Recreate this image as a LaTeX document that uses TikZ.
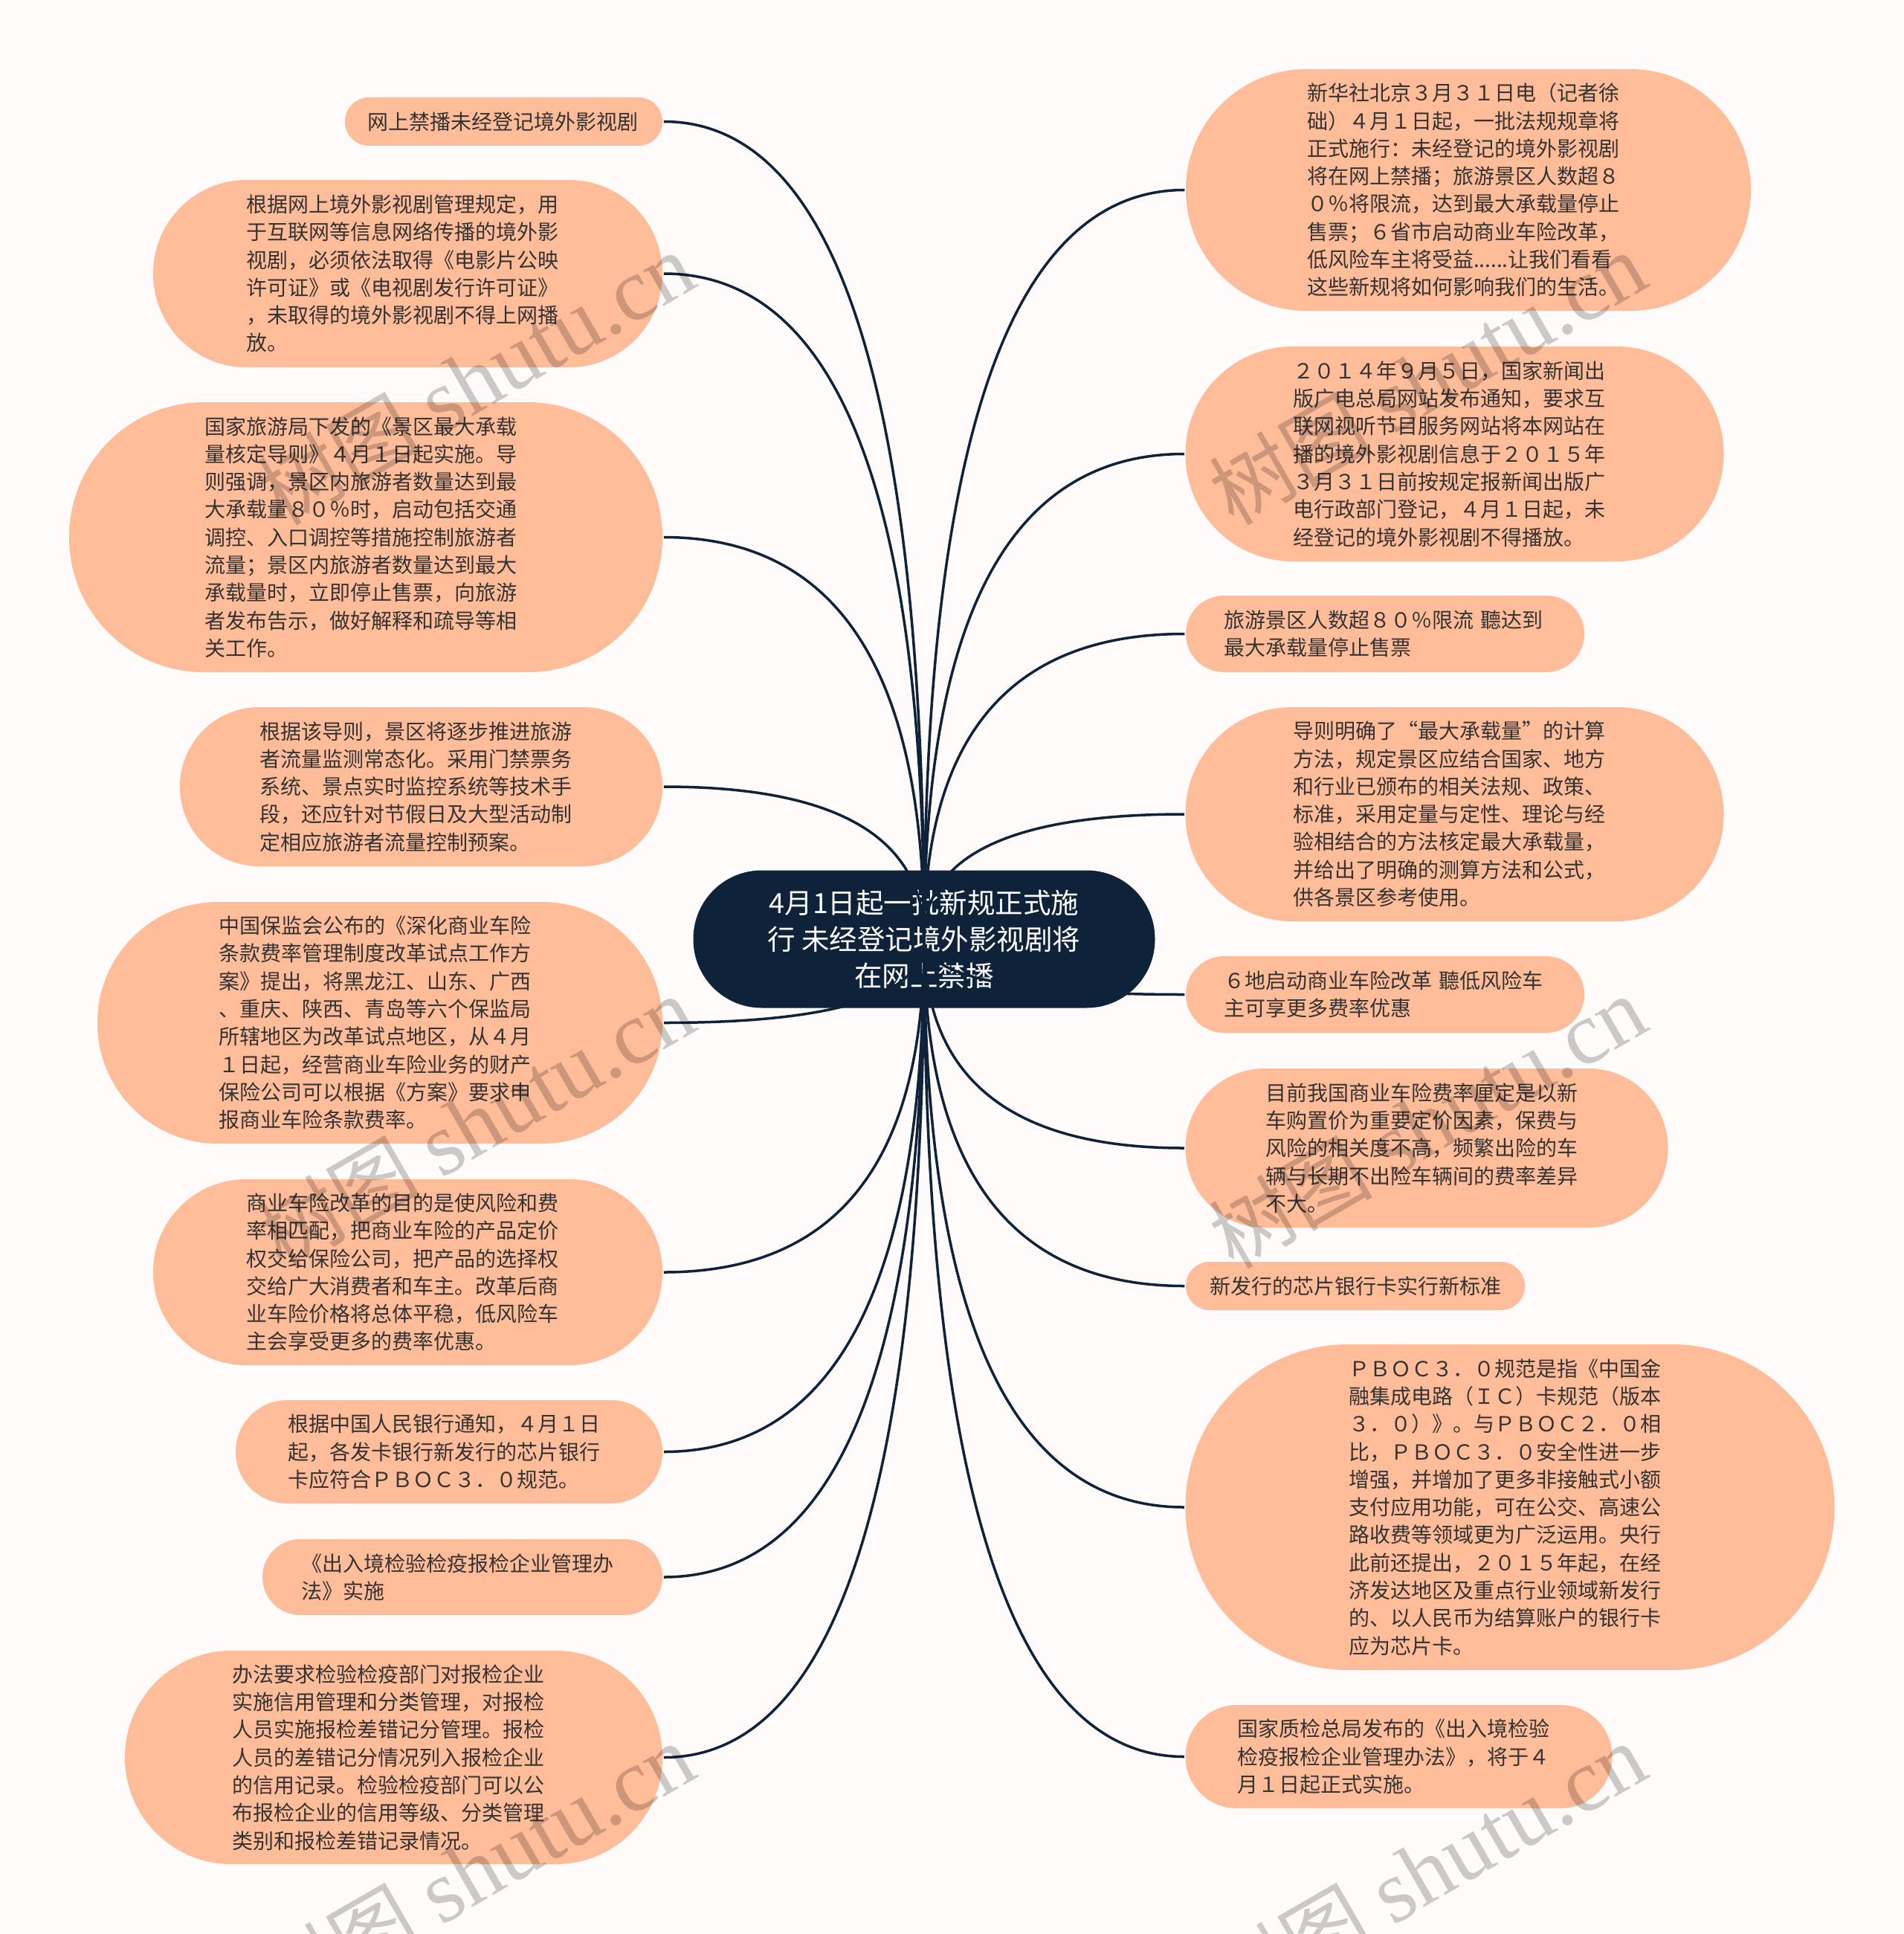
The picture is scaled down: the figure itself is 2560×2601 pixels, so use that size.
\documentclass[tikz,border=0pt]{standalone}
\usepackage{fontspec}
\setmainfont{Noto Sans CJK SC}
\newfontfamily\markfont{Liberation Serif}
\usetikzlibrary{calc}
\definecolor{pagebg}{HTML}{FEFBFA}
\definecolor{peach}{HTML}{FFBC99}
\definecolor{navy}{HTML}{0E2239}
\definecolor{leaftext}{HTML}{333333}
\newcommand{\stamptext}{{\fontsize{110pt}{120pt}\selectfont 树图} {\markfont shutu.cn}}
\tikzset{
  leaf/.style 2 args={fill=peach,text=leaftext,inner sep=0pt,align=left,
    minimum width=#1pt,minimum height=#2pt,rounded corners=0.499*#2pt,
    text width=434pt,font=\fontsize{28pt}{37.3pt}\selectfont},
  rootbox/.style={fill=navy,text=white,inner sep=0pt,align=center,
    minimum width=621pt,minimum height=185pt,rounded corners=92pt,
    font=\fontsize{37.5pt}{49pt}\selectfont},
  branch/.style={to path={.. controls ($(\tikztostart)!.667!(\tikztostart |- \tikztotarget)$)
    and ($(\tikztotarget)!.667!(\tikztostart |- \tikztotarget)$) .. (\tikztotarget)}},
  stamp/.style={rotate=30,text=black,text opacity=0.2,inner sep=0pt,
    font=\fontsize{120pt}{120pt}\selectfont}
}
\begin{document}
\begin{tikzpicture}[x=1pt,y=-1pt,line width=3.5pt]
  \fill[pagebg] (0,0) rectangle (2560,2601);
  \useasboundingbox (0,0) rectangle (2560,2601);

  \node[rootbox] (root) at (1243,1263) {4月1日起一批新规正式施\\行 未经登记境外影视剧将\\在网上禁播};

  % left side
  \node[leaf={427}{65},text width=367pt] (L1) at (677.5,163.5) {网上禁播未经登记境外影视剧};
  \node[leaf={685}{252}] (L2) at (548.5,368) {根据网上境外影视剧管理规定，用\\于互联网等信息网络传播的境外影\\视剧，必须依法取得《电影片公映\\许可证》或《电视剧发行许可证》\\，未取得的境外影视剧不得上网播\\放。};
  \node[leaf={798}{363}] (L3) at (492,722.5) {国家旅游局下发的《景区最大承载\\量核定导则》４月１日起实施。导\\则强调，景区内旅游者数量达到最\\大承载量８０％时，启动包括交通\\调控、入口调控等措施控制旅游者\\流量；景区内旅游者数量达到最大\\承载量时，立即停止售票，向旅游\\者发布告示，做好解释和疏导等相\\关工作。};
  \node[leaf={649}{214}] (L4) at (566.5,1058) {根据该导则，景区将逐步推进旅游\\者流量监测常态化。采用门禁票务\\系统、景点实时监控系统等技术手\\段，还应针对节假日及大型活动制\\定相应旅游者流量控制预案。};
  \node[leaf={760}{325}] (L5) at (511,1375.5) {中国保监会公布的《深化商业车险\\条款费率管理制度改革试点工作方\\案》提出，将黑龙江、山东、广西\\、重庆、陕西、青岛等六个保监局\\所辖地区为改革试点地区，从４月\\１日起，经营商业车险业务的财产\\保险公司可以根据《方案》要求申\\报商业车险条款费率。};
  \node[leaf={685}{250}] (L6) at (548.5,1711) {商业车险改革的目的是使风险和费\\率相匹配，把商业车险的产品定价\\权交给保险公司，把产品的选择权\\交给广大消费者和车主。改革后商\\业车险价格将总体平稳，低风险车\\主会享受更多的费率优惠。};
  \node[leaf={574}{139}] (L7) at (604,1952.5) {根据中国人民银行通知，４月１日\\起，各发卡银行新发行的芯片银行\\卡应符合ＰＢＯＣ３．０规范。};
  \node[leaf={538}{102}] (L8) at (622,2121) {《出入境检验检疫报检企业管理办\\法》实施};
  \node[leaf={723}{287}] (L9) at (529.5,2363.5) {办法要求检验检疫部门对报检企业\\实施信用管理和分类管理，对报检\\人员实施报检差错记分管理。报检\\人员的差错记分情况列入报检企业\\的信用记录。检验检疫部门可以公\\布报检企业的信用等级、分类管理\\类别和报检差错记录情况。};

  % right side
  \node[leaf={760}{325}] (R1) at (1975,255.5) {新华社北京３月３１日电（记者徐\\础）４月１日起，一批法规规章将\\正式施行：未经登记的境外影视剧\\将在网上禁播；旅游景区人数超８\\０％将限流，达到最大承载量停止\\售票；６省市启动商业车险改革，\\低风险车主将受益......让我们看看\\这些新规将如何影响我们的生活。};
  \node[leaf={724}{289}] (R2) at (1956.5,610.5) {２０１４年９月５日，国家新闻出\\版广电总局网站发布通知，要求互\\联网视听节目服务网站将本网站在\\播的境外影视剧信息于２０１５年\\３月３１日前按规定报新闻出版广\\电行政部门登记，４月１日起，未\\经登记的境外影视剧不得播放。};
  \node[leaf={536}{103}] (R3) at (1863,852.5) {旅游景区人数超８０％限流 聽达到\\最大承载量停止售票};
  \node[leaf={724}{288}] (R4) at (1956.5,1095) {导则明确了“最大承载量”的计算\\方法，规定景区应结合国家、地方\\和行业已颁布的相关法规、政策、\\标准，采用定量与定性、理论与经\\验相结合的方法核定最大承载量，\\并给出了明确的测算方法和公式，\\供各景区参考使用。};
  \node[leaf={536}{103}] (R5) at (1863,1337.5) {６地启动商业车险改革 聽低风险车\\主可享更多费率优惠};
  \node[leaf={649}{214}] (R6) at (1919,1544) {目前我国商业车险费率厘定是以新\\车购置价为重要定价因素，保费与\\风险的相关度不高，频繁出险的车\\辆与长期不出险车辆间的费率差异\\不大。};
  \node[leaf={456}{65},text width=392pt] (R7) at (1823,1729.5) {新发行的芯片银行卡实行新标准};
  \node[leaf={873}{438}] (R8) at (2031,2027) {ＰＢＯＣ３．０规范是指《中国金\\融集成电路（ＩＣ）卡规范（版本\\３．０）》。与ＰＢＯＣ２．０相\\比，ＰＢＯＣ３．０安全性进一步\\增强，并增加了更多非接触式小额\\支付应用功能，可在公交、高速公\\路收费等领域更为广泛运用。央行\\此前还提出，２０１５年起，在经\\济发达地区及重点行业领域新发行\\的、以人民币为结算账户的银行卡\\应为芯片卡。};
  \node[leaf={574}{139}] (R9) at (1881.5,2362.5) {国家质检总局发布的《出入境检验\\检疫报检企业管理办法》，将于４\\月１日起正式实施。};

  % branches
  \draw[navy,branch] (root.center) to (L1.east);
  \draw[navy,branch] (root.center) to (L2.east);
  \draw[navy,branch] (root.center) to (L3.east);
  \draw[navy,branch] (root.center) to (L4.east);
  \draw[navy,branch] (root.center) to (L5.east);
  \draw[navy,branch] (root.center) to (L6.east);
  \draw[navy,branch] (root.center) to (L7.east);
  \draw[navy,branch] (root.center) to (L8.east);
  \draw[navy,branch] (root.center) to (L9.east);
  \draw[navy,branch] (root.center) to (R1.west);
  \draw[navy,branch] (root.center) to (R2.west);
  \draw[navy,branch] (root.center) to (R3.west);
  \draw[navy,branch] (root.center) to (R4.west);
  \draw[navy,branch] (root.center) to (R5.west);
  \draw[navy,branch] (root.center) to (R6.west);
  \draw[navy,branch] (root.center) to (R7.west);
  \draw[navy,branch] (root.center) to (R8.west);
  \draw[navy,branch] (root.center) to (R9.west);

  % stamps
  \node[stamp] (S1) at (640,510) {\stamptext};
  \node[stamp] (S2) at (640,1510) {\stamptext};
  \node[stamp] (S3) at (640,2515) {\stamptext};
  \node[stamp] (S4) at (1920,510) {\stamptext};
  \node[stamp] (S5) at (1920,1510) {\stamptext};
  \node[stamp] (S6) at (1920,2515) {\stamptext};
\end{tikzpicture}
\end{document}
